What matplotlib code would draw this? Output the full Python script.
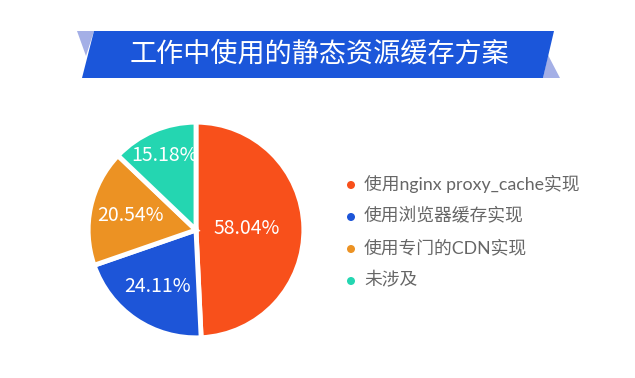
import numpy as np
import matplotlib.pyplot as plt
from matplotlib.patches import Polygon, Circle

plt.rcParams['font.family'] = ['Noto Sans CJK SC', 'DejaVu Sans']

# data
title = "工作中使用的静态资源缓存方案"
categories = ["使用nginx proxy_cache实现", "使用浏览器缓存实现", "使用专门的CDN实现", "未涉及"]
values = [58.04, 24.11, 20.54, 15.18]
colors = ["#f8501b", "#1d55d8", "#ec9223", "#24d6b1"]

# label distance from centre (fraction of radius), one per slice
label_r = [0.47, 0.63, 0.62, 0.75]

fig = plt.figure(figsize=(6.35, 3.78), dpi=100)
fig.patch.set_facecolor("white")

# background axes in pixel coordinates for banner and legend
bg = fig.add_axes([0, 0, 1, 1])
bg.set_xlim(0, 635)
bg.set_ylim(378, 0)
bg.axis("off")

# title banner
bg.add_patch(Polygon([(77, 31), (94, 31), (86, 56)], closed=True, color="#a4afe6", lw=0))
bg.add_patch(Polygon([(548, 55), (543, 78), (560, 78)], closed=True, color="#a4afe6", lw=0))
bg.add_patch(Polygon([(94, 31), (554, 31), (543, 78), (82, 78)], closed=True, color="#1b56da", lw=0))
bg.text(319, 54, title, color="white", fontsize=19.5, ha="center", va="center")

# legend (Lato for the latin letters, CJK falls through to Noto)
for i, (cat, col) in enumerate(zip(categories, colors)):
    y = 184 + i * 32
    bg.add_patch(Circle((351, y + 1), 4, color=col, lw=0))
    bg.text(364, y, cat, color="#666666", fontsize=12.8, ha="left", va="center",
            family=["Lato", "Noto Sans CJK SC"])

# pie
R = 110
ax = fig.add_axes([(196 - R) / 635, (378 - 230 - R) / 378, 2 * R / 635, 2 * R / 378])
wedges, _ = ax.pie(values, colors=colors, startangle=90, counterclock=False,
                   wedgeprops=dict(edgecolor="white", linewidth=3.5))
ax.set_xlim(-1.02, 1.02)
ax.set_ylim(-1.02, 1.02)
ax.set_aspect("equal")

for w, v, r in zip(wedges, values, label_r):
    ang = np.deg2rad((w.theta1 + w.theta2) / 2)
    ax.text(r * np.cos(ang), r * np.sin(ang), f"{v:.2f}%", color="white",
            fontsize=14, ha="center", va="center")

fig.savefig("out.png", dpi=100)
